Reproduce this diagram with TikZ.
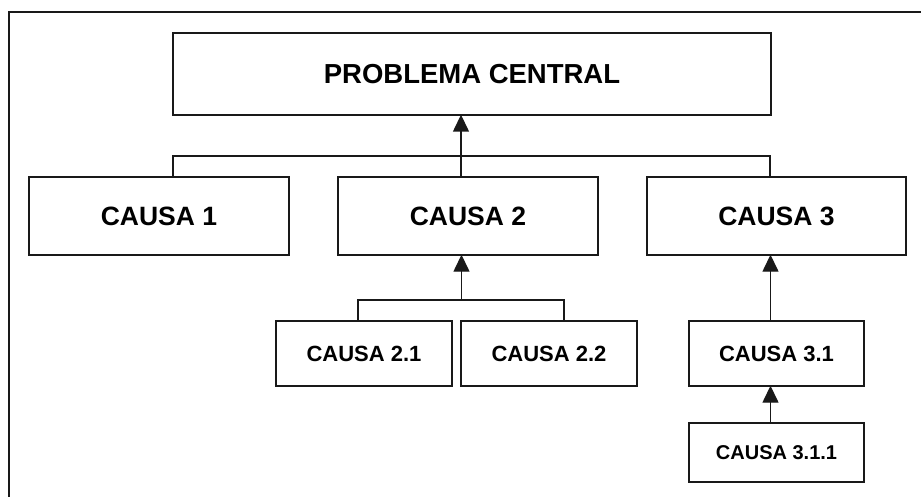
\documentclass[tikz,border=0pt]{standalone}
\usepackage{fontspec}
\setmainfont{Liberation Sans}
\usetikzlibrary{arrows.meta}
\begin{document}
\begin{tikzpicture}[x=1pt,y=-1pt,
  line width=1.4pt,
  box/.style={draw=black!90, line width=1.4pt, inner sep=0pt, font=\bfseries},
  big/.style={box, font=\fontsize{26.5}{30}\selectfont\bfseries},
  huge/.style={box, font=\fontsize{27.5}{31}\selectfont\bfseries},
  mid/.style={box, font=\fontsize{22}{26}\selectfont\bfseries},
  small/.style={box, font=\fontsize{20}{24}\selectfont\bfseries},
  link/.style={draw=black!90, line width=1.4pt},
  up/.style={link, -{Triangle[width=16pt,length=17pt]}, shorten >=-1pt}]
\useasboundingbox (0,0) rectangle (921,497);
\begin{scope}
\clip (0,0) rectangle (921,497);
% outer frame, running off the right and bottom edges
\coordinate (fbl) at (9,510);
\coordinate (ftl) at (9,12);
\coordinate (ftr) at (940,12);
\draw[link] (fbl) -- (ftl) -- (ftr);
\end{scope}

% boxes
\node[huge, minimum width=598pt, minimum height=82pt] (pc) at (472,74) {PROBLEMA CENTRAL};
\node[big, minimum width=260pt, minimum height=78pt] (c1) at (159,216) {CAUSA 1};
\node[big, minimum width=260pt, minimum height=78pt] (c2) at (468,216) {CAUSA 2};
\node[big, minimum width=259pt, minimum height=78pt] (c3) at (776.5,216) {CAUSA 3};
\node[mid, minimum width=176pt, minimum height=65pt] (c21) at (364,353.5) {CAUSA 2.1};
\node[mid, minimum width=176pt, minimum height=65pt] (c22) at (549,353.5) {CAUSA 2.2};
\node[mid, minimum width=175pt, minimum height=65pt] (c31) at (776.5,353.5) {CAUSA 3.1};
\node[small, minimum width=175pt, minimum height=59pt] (c311) at (776.5,452.5) {CAUSA 3.1.1};

% level 1 -> central problem
\coordinate (b1) at (173,156);
\coordinate (b3) at (770,156);
\draw[link] (c1.north -| b1) -- (b1) -- (b3) -- (c3.north -| b3);
\draw[up] (c2.north -| 461,0) -- (pc.south -| 461,0);

% level 2 -> CAUSA 2
\coordinate (b21) at (358,300);
\coordinate (b22) at (564,300);
\coordinate (b2m) at (461.5,300);
\draw[link] (c21.north -| b21) -- (b21) -- (b22) -- (c22.north -| b22);
\draw[up] (b2m) -- (c2.south -| b2m);

% chain under CAUSA 3
\draw[up] (c31.north -| 770.5,0) -- (c3.south -| 770.5,0);
\draw[up] (c311.north -| 770.5,0) -- (c31.south -| 770.5,0);
\end{tikzpicture}
\end{document}
